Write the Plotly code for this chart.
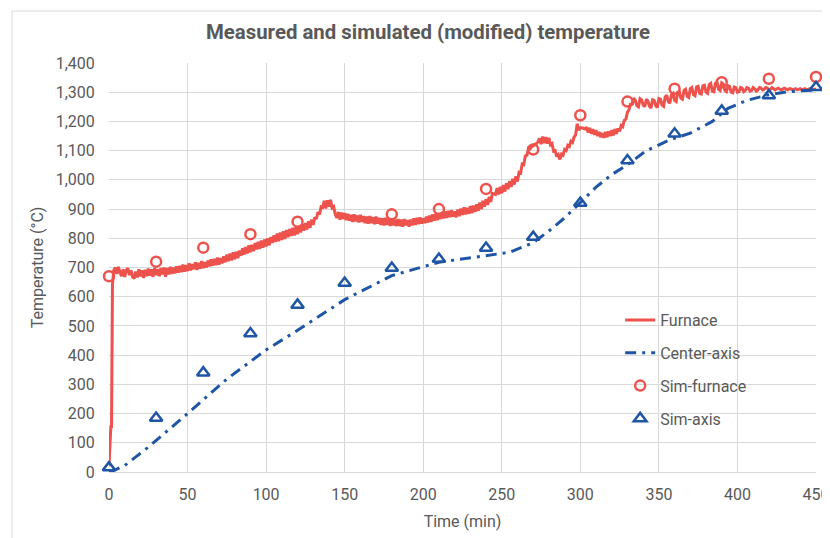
import plotly.graph_objects as go

# ---- Data ----
furnace_time = [0, 0.7, 1.2, 1.6, 2.2, 3] + list(range(4, 451))
furnace_temp = [20, 110, 160, 150, 640, 690,
    700, 678, 702, 684, 670, 694, 668, 690, 698, 674,
    690, 668, 662, 686, 666, 694, 670, 690, 664, 692,
    670, 696, 672, 694, 668, 698, 674, 694, 670, 698,
    676, 700, 668, 698, 676, 702, 678, 700, 680, 704,
    682, 706, 684, 710, 686, 708, 688, 714, 690, 712,
    694, 718, 692, 716, 696, 722, 698, 718, 700, 724,
    704, 728, 706, 730, 708, 734, 710, 732, 714, 738,
    718, 744, 722, 748, 724, 752, 728, 754, 732, 758,
    740, 766, 744, 770, 748, 776, 752, 778, 756, 784,
    762, 788, 764, 792, 768, 796, 772, 800, 776, 804,
    784, 810, 788, 816, 790, 820, 794, 824, 798, 828,
    804, 832, 808, 836, 810, 838, 814, 842, 820, 848,
    826, 852, 830, 858, 836, 864, 846, 872, 866, 890,
    882, 908, 906, 928, 902, 930, 908, 932, 904, 908,
    882, 870, 890, 864, 888, 866, 886, 862, 884, 860,
    880, 856, 882, 858, 878, 854, 880, 856, 876, 852,
    874, 850, 876, 852, 872, 848, 874, 850, 870, 846,
    868, 844, 870, 846, 866, 842, 868, 844, 864, 842,
    866, 842, 864, 840, 866, 844, 862, 840, 864, 844,
    868, 846, 870, 848, 872, 850, 868, 852, 874, 854,
    878, 856, 882, 860, 884, 862, 886, 866, 890, 868,
    892, 870, 894, 872, 896, 874, 892, 872, 898, 876,
    902, 880, 906, 882, 904, 884, 910, 886, 912, 890,
    916, 894, 922, 900, 928, 908, 934, 914, 942, 924,
    954, 952, 950, 972, 950, 976, 954, 982, 960, 988,
    968, 996, 976, 1004, 984, 1012, 994, 1026, 1024, 1054,
    1052, 1082, 1084, 1108, 1106, 1114, 1116, 1122, 1124, 1130,
    1142, 1122, 1148, 1126, 1146, 1124, 1144, 1120, 1124, 1098,
    1100, 1080, 1086, 1070, 1088, 1084, 1104, 1100, 1118, 1114,
    1132, 1128, 1146, 1154, 1192, 1170, 1178, 1178, 1176, 1174,
    1180, 1162, 1178, 1158, 1174, 1154, 1170, 1150, 1164, 1146,
    1160, 1144, 1164, 1146, 1166, 1150, 1170, 1152, 1174, 1158,
    1176, 1166, 1186, 1182, 1204, 1208, 1232, 1240, 1262, 1256,
    1280, 1272, 1254, 1250, 1278, 1274, 1256, 1250, 1276, 1270,
    1252, 1246, 1274, 1272, 1254, 1248, 1278, 1276, 1256, 1252,
    1284, 1290, 1268, 1262, 1292, 1296, 1272, 1268, 1300, 1302,
    1280, 1276, 1306, 1310, 1286, 1282, 1312, 1316, 1292, 1288,
    1318, 1320, 1296, 1294, 1322, 1324, 1300, 1296, 1326, 1330,
    1304, 1302, 1330, 1334, 1310, 1306, 1332, 1328, 1306, 1302,
    1322, 1320, 1300, 1298, 1318, 1316, 1300, 1302, 1316, 1314,
    1302, 1306, 1316, 1314, 1304, 1306, 1316, 1312, 1304, 1308,
    1316, 1314, 1308, 1310, 1316, 1314, 1308, 1310, 1316, 1312,
    1308, 1312, 1314, 1310, 1308, 1312, 1314, 1310, 1308, 1312,
    1312, 1308, 1310, 1312, 1308, 1310, 1312, 1308, 1310, 1312,
    1308, 1310, 1312, 1308, 1310, 1310, 1310]

axis_time = [0, 3, 10, 25, 50, 75, 100, 120, 150, 180, 210, 240, 255, 270, 280,
             290, 300, 310, 320, 330, 342, 357, 370, 384, 394, 406, 419, 431, 440, 450]
axis_temp = [5, 5, 22, 85, 200, 318, 418, 485, 590, 672, 718, 742, 752, 785, 825,
             870, 922, 975, 1018, 1052, 1100, 1137, 1160, 1200, 1245, 1272, 1290, 1301, 1305, 1307]

sim_time = [0, 30, 60, 90, 120, 150, 180, 210, 240, 270, 300, 330, 360, 390, 420, 450]
sim_furnace = [670, 720, 768, 814, 857, None, 882, 900, 969, 1104, 1221, 1268, 1312, 1334, 1346, 1352]
sim_axis = [15, 185, 340, 474, 572, 647, 698, 729, 767, 804, 921, 1066, 1158, 1236, 1289, 1317]

x_ticks = [0, 50, 100, 150, 200, 250, 300, 350, 400, 450]
y_ticks = list(range(0, 1401, 100))

RED = "#EE524D"
BLUE = "#1F55A5"
GRAY = "#595959"
FONT = "Roboto"

fig = go.Figure()
fig.add_trace(go.Scatter(x=furnace_time, y=furnace_temp, mode="lines", name="Furnace",
                         line=dict(color=RED, width=3), legendgroup="a"))
fig.add_trace(go.Scatter(x=axis_time, y=axis_temp, mode="lines", name="Center-axis",
                         line=dict(color=BLUE, width=3, dash="11px,6px,3px,6px"), legendgroup="b"))
fig.add_trace(go.Scatter(x=sim_time, y=sim_furnace, mode="markers", name="Sim-furnace",
                         marker=dict(symbol="circle-open", size=10, color=RED, line=dict(width=2.5, color=RED)),
                         legendgroup="c", cliponaxis=False))
fig.add_trace(go.Scatter(x=sim_time, y=sim_axis, mode="markers", name="Sim-axis",
                         marker=dict(symbol="triangle-up-open", size=11, color=BLUE, line=dict(width=2.5, color=BLUE)),
                         legendgroup="d", cliponaxis=False))

fig.update_layout(
    width=822, height=530,
    margin=dict(l=101, r=14, t=55, b=66),
    paper_bgcolor="white", plot_bgcolor="white",
    font=dict(family=FONT, color=GRAY, size=16),
    title=dict(text="<b>Measured and simulated (modified) temperature</b>",
               x=0.511, xanchor="center", y=0.9547, yanchor="middle",
               font=dict(size=20.4, color=GRAY, family=FONT)),
    showlegend=True,
    legend=dict(x=0.723, y=0.413, xanchor="left", yanchor="top",
                bgcolor="rgba(0,0,0,0)", font=dict(size=16, color=GRAY),
                traceorder="grouped", tracegroupgap=9, itemwidth=30),
    xaxis=dict(range=[0, 450], tickvals=x_ticks, ticktext=[str(v) for v in x_ticks],
               showgrid=True, gridcolor="#D9D9D9", gridwidth=1, automargin=False,
               zeroline=False, showline=True, linecolor="#D9D9D9",
               ticks="outside", ticklen=8, tickcolor="rgba(0,0,0,0)",
               title=dict(text="Time (min)", font=dict(size=16, color=GRAY), standoff=12)),
    yaxis=dict(range=[0, 1400], tickvals=y_ticks, tickformat=",d", automargin=False,
               showgrid=True, gridcolor="#D9D9D9", gridwidth=1,
               zeroline=False, showline=False,
               ticks="outside", ticklen=10, tickcolor="rgba(0,0,0,0)",
               title=dict(text="Temperature (°C)", font=dict(size=16, color=GRAY), standoff=8)),
    shapes=[dict(type="rect", xref="paper", yref="paper",
                 x0=-0.1372, x1=1.05, y0=-0.2, y1=1.127,
                 line=dict(color="#D9D9D9", width=1), fillcolor="rgba(0,0,0,0)", layer="below")],
)

fig.write_html("out.html")
